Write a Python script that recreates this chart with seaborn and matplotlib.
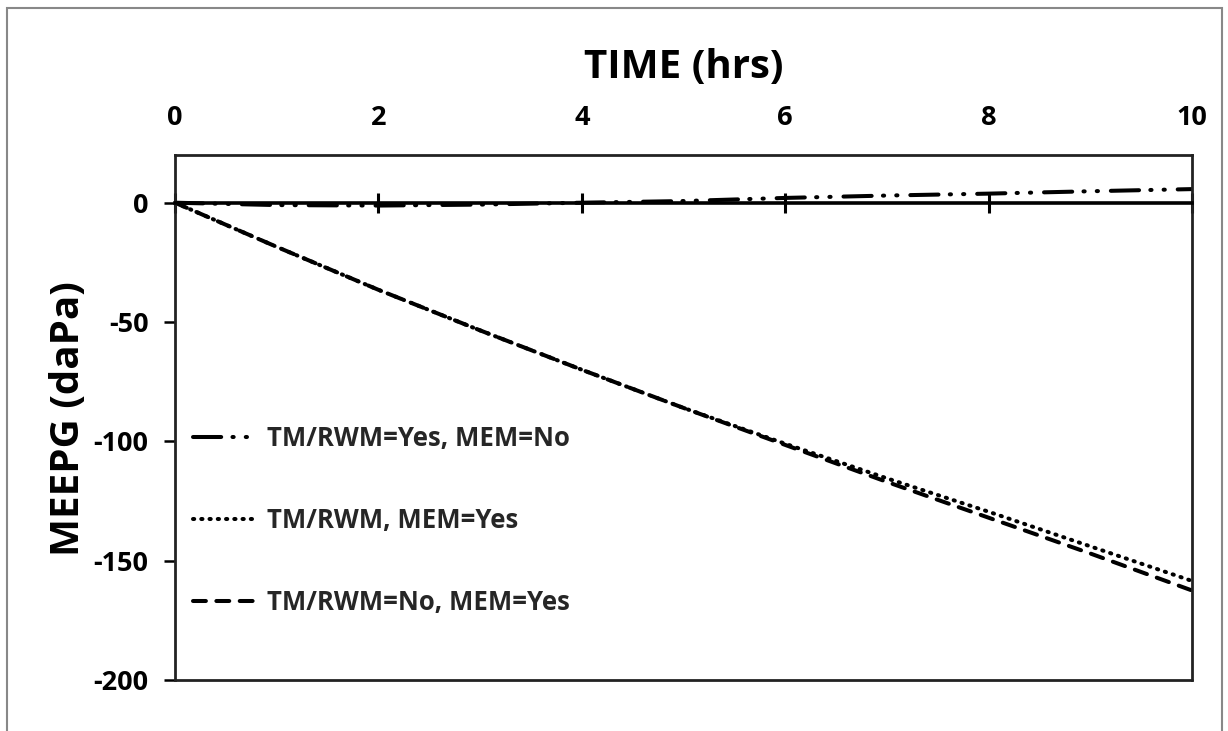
import matplotlib
matplotlib.use("Agg")
import matplotlib.pyplot as plt
import seaborn as sns
import pandas as pd
from matplotlib.patches import Rectangle

# ---- data ----
time_hrs = [0, 1, 2, 3, 4, 5, 6, 7, 8, 9, 10]
tm_yes_mem_no = [0, -1.0, -1.2, -0.8, 0.0, 0.7, 2.0, 3.0, 3.8, 4.8, 5.7]
tm_mem_yes = [0, -18.5, -36.5, -53.5, -70, -86, -101, -115.5, -129.5, -144, -158.5]
tm_no_mem_yes = [0, -18.5, -36.5, -53.5, -70, -86, -101.5, -117, -132, -147, -162.5]
series_names = ["TM/RWM=Yes, MEM=No", "TM/RWM, MEM=Yes", "TM/RWM=No, MEM=Yes"]
x_ticks = [0, 2, 4, 6, 8, 10]
y_ticks = [-200, -150, -100, -50, 0]

df = pd.DataFrame({
    "time": time_hrs * 3,
    "value": tm_yes_mem_no + tm_mem_yes + tm_no_mem_yes,
    "series": [series_names[0]] * len(time_hrs) + [series_names[1]] * len(time_hrs)
              + [series_names[2]] * len(time_hrs),
})

sns.set_theme(style="white")
plt.rcParams["font.family"] = ["Open Sans", "DejaVu Sans"]
plt.rcParams["font.weight"] = "bold"
plt.rcParams["axes.unicode_minus"] = False

fig = plt.figure(figsize=(12.28, 7.31), dpi=100)
ax = fig.add_axes([0.1425, 0.0698, 0.9707 - 0.1425, 0.788 - 0.0698])

dash_map = {
    series_names[0]: (7, 2.8, 0.3, 3, 0.3, 3.2),
    series_names[1]: (0.3, 1.75),
    series_names[2]: (3.2, 2.6),
}
sns.lineplot(data=df, x="time", y="value", hue="series", style="series",
             palette=["black"] * 3, dashes=dash_map, linewidth=2.9,
             ax=ax, legend=True)
for ln in ax.lines:
    ln.set_dash_capstyle("round")

ax.set_xlim(0, 10)
ax.set_ylim(-200, 20)

# axis styling
for sp in ["left", "right", "top", "bottom"]:
    ax.spines[sp].set_color("#222222")
    ax.spines[sp].set_linewidth(2.0)
ax.spines["bottom"].set_position(("data", 0))
ax.spines["bottom"].set_color("black")
ax.spines["bottom"].set_linewidth(2.6)
ax.axhline(-200, color="#222222", lw=2.0, clip_on=False, zorder=5)

ax.set_xticks(x_ticks)
ax.set_yticks(y_ticks)
ax.xaxis.set_ticks_position("bottom")
ax.tick_params(axis="x", bottom=True, top=False, labelbottom=False, labeltop=True,
               direction="inout", length=14, width=2.2, color="black",
               labelsize=19.5, pad=10, labelcolor="black")
ax.tick_params(axis="y", left=True, direction="out", length=8, width=1.8,
               color="black", labelsize=19.5, pad=11, labelcolor="black")
for lab in ax.get_xticklabels() + ax.get_yticklabels():
    lab.set_fontweight("bold")

ax.xaxis.set_label_position("top")
ax.set_xlabel("TIME (hrs)", fontsize=29, fontweight="bold", labelpad=20, color="black")
ax.set_ylabel("MEEPG (daPa)", fontsize=29, fontweight="bold", color="black")
ax.yaxis.set_label_coords(-0.0855, 0.497)
ax.grid(False)

leg = ax.legend(loc="upper left", bbox_to_anchor=(0.0, 0.52), frameon=False,
                fontsize=18.5, labelspacing=2.15, handlelength=2.55, handletextpad=0.35,
                borderaxespad=0.3, borderpad=0.4)
for t in leg.get_texts():
    t.set_fontweight("bold")
for h in leg.get_lines():
    h.set_linewidth(2.9)

# outer frame around the figure
fig.patches.append(Rectangle((0.006, -0.01), 0.989, 0.999, transform=fig.transFigure,
                             fill=False, edgecolor="#888888", lw=1.5))

fig.savefig("out.png", dpi=100)
